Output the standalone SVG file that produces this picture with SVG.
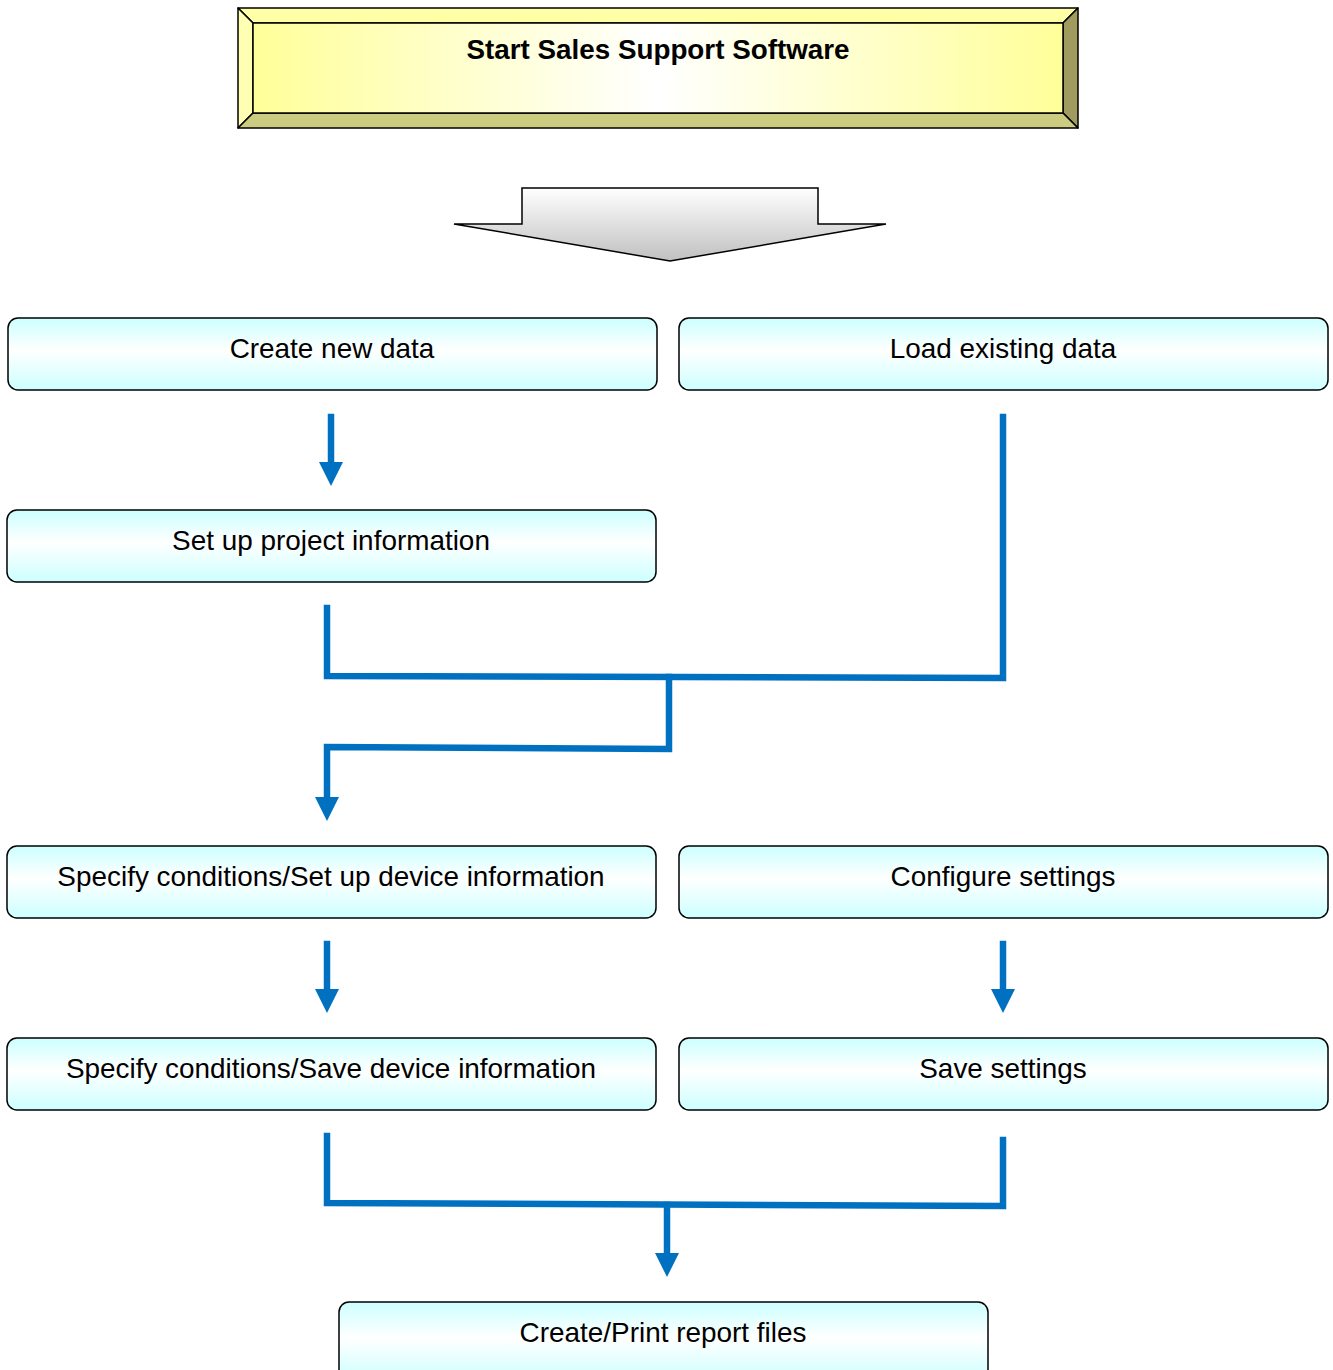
<svg xmlns="http://www.w3.org/2000/svg" width="1333" height="1370" viewBox="0 0 1333 1370">
<style>
.box{stroke:#000;stroke-width:1.5;fill:url(#cyanG)}
.lbl{font-family:"Liberation Sans",Arial,sans-serif;font-size:27.9px;fill:#000;text-anchor:middle}
.ttl{font-family:"Liberation Sans",Arial,sans-serif;font-size:27.8px;font-weight:bold;fill:#000;text-anchor:middle}
.ln{stroke:#0070C0;stroke-width:6.5;fill:none;stroke-linecap:square;stroke-linejoin:miter}
.ah{fill:#0070C0}
.bev{stroke:#000;stroke-width:1.5;stroke-linejoin:round}
</style>
<defs>
<linearGradient id="cyanG" x1="0" y1="0" x2="0" y2="1">
<stop offset="0" stop-color="#CCFFFF"/>
<stop offset="0.45" stop-color="#FFFFFF"/>
<stop offset="1" stop-color="#CCFFFF"/>
</linearGradient>
<linearGradient id="yelG" x1="0" y1="0" x2="1" y2="0">
<stop offset="0" stop-color="#FFFF99"/>
<stop offset="0.5" stop-color="#FFFFFF"/>
<stop offset="1" stop-color="#FFFF99"/>
</linearGradient>
<linearGradient id="grayG" x1="0" y1="0" x2="0" y2="1">
<stop offset="0" stop-color="#FFFFFF"/>
<stop offset="1" stop-color="#C0C0C0"/>
</linearGradient>
</defs>

<g id="start">
<polygon class="bev" points="238,8 1078,8 1063,23 253,23" fill="#FFFFA6"/>
<polygon class="bev" points="238,8 253,23 253,113 238,128" fill="#FFFFB3"/>
<polygon class="bev" points="1078,8 1078,128 1063,113 1063,23" fill="#A09C60"/>
<polygon class="bev" points="238,128 253,113 1063,113 1078,128" fill="#CCCC80"/>
<rect x="253" y="23" width="810" height="90" fill="url(#yelG)" stroke="#000" stroke-width="1.5"/>
<text class="ttl" x="658" y="59">Start Sales Support Software</text>
</g>

<g id="bigarrow">
<polygon points="522,188 818,188 818,224 886,224 670,261 454,224 522,224" fill="url(#grayG)" stroke="#000" stroke-width="1.5" stroke-linejoin="miter"/>
</g>

<g id="n1"><rect class="box" x="8" y="318" width="649" height="72" rx="10"/><text class="lbl" x="332" y="358">Create new data</text></g>
<g id="n2"><rect class="box" x="679" y="318" width="649" height="72" rx="10"/><text class="lbl" x="1003" y="358">Load existing data</text></g>
<g id="n3"><rect class="box" x="7" y="510" width="649" height="72" rx="10"/><text class="lbl" x="331" y="550">Set up project information</text></g>
<g id="n4"><rect class="box" x="7" y="846" width="649" height="72" rx="10"/><text class="lbl" x="331" y="886">Specify conditions/Set up device information</text></g>
<g id="n5"><rect class="box" x="679" y="846" width="649" height="72" rx="10"/><text class="lbl" x="1003" y="886">Configure settings</text></g>
<g id="n6"><rect class="box" x="7" y="1038" width="649" height="72" rx="10"/><text class="lbl" x="331" y="1078">Specify conditions/Save device information</text></g>
<g id="n7"><rect class="box" x="679" y="1038" width="649" height="72" rx="10"/><text class="lbl" x="1003" y="1078">Save settings</text></g>
<g id="n8"><rect class="box" x="339" y="1302" width="649" height="80" rx="10"/><text class="lbl" x="663" y="1342">Create/Print report files</text></g>

<g id="connectors">
<line class="ln" x1="331" y1="417" x2="331" y2="464"/>
<polygon class="ah" points="319,462 343,462 331,486"/>

<polyline class="ln" points="1003,417 1003,678 327,676 327,608"/>
<polyline class="ln" points="669,677 669,749 327,747 327,800"/>
<polygon class="ah" points="315,797 339,797 327,821"/>

<line class="ln" x1="327" y1="944" x2="327" y2="992"/>
<polygon class="ah" points="315,989 339,989 327,1013"/>
<line class="ln" x1="1003" y1="944" x2="1003" y2="992"/>
<polygon class="ah" points="991,989 1015,989 1003,1013"/>

<polyline class="ln" points="327,1136 327,1203 1003,1206 1003,1140"/>
<line class="ln" x1="667" y1="1205" x2="667" y2="1256"/>
<polygon class="ah" points="655,1253 679,1253 667,1277"/>
</g>
</svg>
